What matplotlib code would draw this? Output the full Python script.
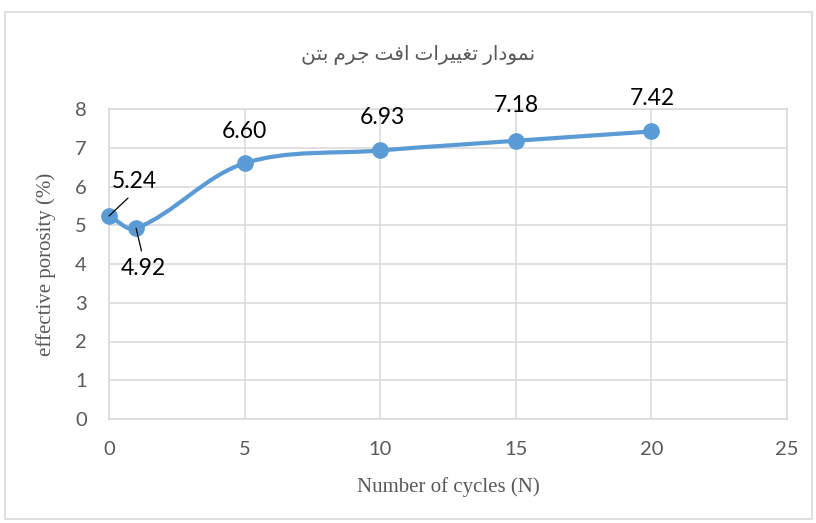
import matplotlib
matplotlib.use("Agg")
import matplotlib.pyplot as plt
import numpy as np
from matplotlib.path import Path
from matplotlib.patches import PathPatch, Rectangle

# data
cycles = [0, 1, 5, 10, 15, 20]
porosity = [5.24, 4.92, 6.60, 6.93, 7.18, 7.42]
labels = ["5.24", "4.92", "6.60", "6.93", "7.18", "7.42"]
# label offsets in pixels (dx, dy)
label_offsets = [(25, 34), (7, -40), (0, 32), (2, 33), (1, 35), (1, 33)]
leader_rel = [(0.5, 0.0), (0.5, 1.0), None, None, None, None]

# title: "نمودار تغییرات افت جرم بتن" in Arabic presentation forms (logical order)
title_words = [
    "\uFEE7\uFEE4\uFEEE\uFEA9\uFE8D\uFEAD",          # نمودار
    "\uFE97\uFED0\uFEF4\uFEF4\uFEAE\uFE8D\uFE95",    # تغییرات
    "\uFE8D\uFED3\uFE96",                            # افت
    "\uFE9F\uFEAE\uFEE1",                            # جرم
    "\uFE91\uFE98\uFEE6",                            # بتن
]
title = " ".join(title_words)[::-1]  # visual order for LTR rendering

blue = "#5B9BD5"
grey_txt = "#595959"
grid_c = "#D9D9D9"

W, H = 816, 523
fig = plt.figure(figsize=(W / 100, H / 100), dpi=100)
ax_l, ax_r, ax_b, ax_t = 109, 787, 419, 109
ax = fig.add_axes([ax_l / W, 1 - ax_b / H, (ax_r - ax_l) / W, (ax_b - ax_t) / H])

ax.set_xlim(0, 25)
ax.set_ylim(0, 8)
ax.set_xticks(range(0, 26, 5))
ax.set_yticks(range(0, 9))
ax.grid(True, color=grid_c, lw=1.1)
ax.set_axisbelow(True)
for s in ax.spines.values():
    s.set_color(grid_c)
    s.set_linewidth(1.1)
ax.tick_params(length=0, labelsize=14.5, labelcolor=grey_txt)
ax.tick_params(axis="x", pad=16)
ax.tick_params(axis="y", pad=16)
for t in ax.get_xticklabels() + ax.get_yticklabels():
    t.set_family("Lato")

# smoothed line (bezier through the points, like Excel's smoothed line)
sx = (ax_r - ax_l) / 25.0
sy = (ax_b - ax_t) / 8.0
P = np.column_stack([np.array(cycles) * sx, np.array(porosity) * sy])
n = len(P)
verts = [tuple(P[0])]
codes = [Path.MOVETO]
for i in range(n - 1):
    a, b = P[i], P[i + 1]
    seg = np.linalg.norm(b - a)
    ta = (P[i + 1] - P[i - 1]) if i > 0 else (b - a)
    tb = (P[i + 2] - P[i]) if i + 2 < n else (b - a)
    ta = ta / np.linalg.norm(ta)
    tb = tb / np.linalg.norm(tb)
    c1 = a + ta * seg / 3
    c2 = b - tb * seg / 3
    verts += [tuple(c1), tuple(c2), tuple(b)]
    codes += [Path.CURVE4] * 3
verts = [(x / sx, y / sy) for x, y in verts]
ax.add_patch(PathPatch(Path(verts, codes), fc="none", ec=blue, lw=3, capstyle="round", zorder=3))
ax.plot(cycles, porosity, ls="none", marker="o", ms=11, color=blue, zorder=4, clip_on=False)

for x, y, lab, off, rel in zip(cycles, porosity, labels, label_offsets, leader_rel):
    kw = {}
    if rel is not None:
        kw["arrowprops"] = dict(arrowstyle="-", color="black", lw=0.9, relpos=rel,
                                shrinkA=3, shrinkB=0)
    ax.annotate(lab, (x, y), xytext=off, textcoords="offset pixels",
                ha="center", va="center", fontsize=16.5, family="Lato",
                color="black", zorder=5, annotation_clip=False, **kw)

fig.text(418 / W, 1 - 55 / H, title, ha="center", va="center", fontsize=14.5,
         color=grey_txt, family=["Liberation Serif", "DejaVu Sans"])
fig.text(448 / W, 1 - 487 / H, "Number of cycles (N)", ha="center", va="center",
         fontsize=15, color=grey_txt, family="Liberation Serif")
fig.text(46 / W, 1 - 264 / H, "effective porosity (%)", ha="center", va="center",
         rotation=90, fontsize=15, color=grey_txt, family="Liberation Serif")

fig.patches.append(Rectangle((5 / W, 4 / H), 807 / W, 507 / H, transform=fig.transFigure,
                             fill=False, ec=grid_c, lw=1.2))

fig.savefig("out.png", dpi=100)
